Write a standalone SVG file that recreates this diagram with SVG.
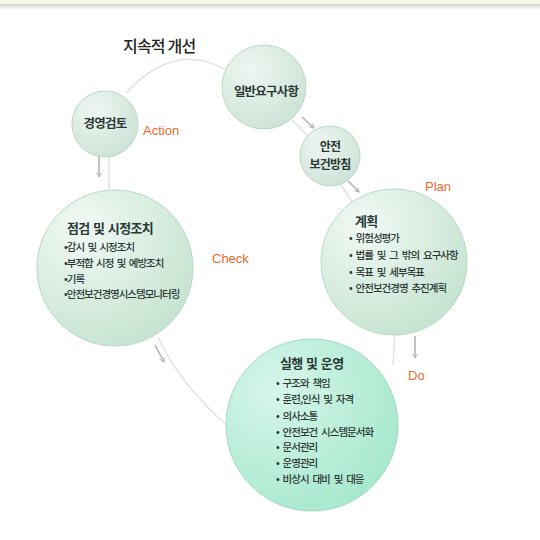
<svg xmlns="http://www.w3.org/2000/svg" width="540" height="540" viewBox="0 0 540 540">
<defs>
  <radialGradient id="gSmall" cx="35%" cy="30%" r="75%">
    <stop offset="0" stop-color="#eef6f1"/>
    <stop offset="1" stop-color="#cde3d6"/>
  </radialGradient>
  <radialGradient id="gMid" cx="30%" cy="25%" r="80%">
    <stop offset="0" stop-color="#f1f9f4"/>
    <stop offset="1" stop-color="#c6e4d1"/>
  </radialGradient>
  <radialGradient id="gBig" cx="30%" cy="30%" r="80%">
    <stop offset="0" stop-color="#d6f6e9"/>
    <stop offset="1" stop-color="#a6e7cd"/>
  </radialGradient>
  <linearGradient id="gBand" x1="0" y1="0" x2="0" y2="1">
    <stop offset="0" stop-color="#d6d6d0"/>
    <stop offset="1" stop-color="#f4f4f2"/>
  </linearGradient>
  <marker id="ah" viewBox="0 0 10 10" refX="8" refY="5" markerWidth="6" markerHeight="6" orient="auto" markerUnits="userSpaceOnUse">
    <path d="M1,1 L8,5 L1,9" fill="none" stroke="#b4b4b4" stroke-width="1.6"/>
  </marker>
</defs>
<style>
  .ring { fill: none; stroke: #e2e2e2; stroke-width: 1.5; }
  .arr { fill: none; stroke: #b4b4b4; stroke-width: 1.6; marker-end: url(#ah); }
  .c-small { fill: url(#gSmall); stroke: #bcd8c6; stroke-width: 1; }
  .c-mid { fill: url(#gMid); stroke: #b8d9c4; stroke-width: 1; }
  .c-big { fill: url(#gBig); stroke: #9edcc3; stroke-width: 1; }
  .kt { font-family: "Noto Sans CJK KR", "Noto Sans", sans-serif; fill: #2a3836; }
  .nm { font-size: 12.5px; font-weight: bold; letter-spacing: -0.8px; text-anchor: middle; }
  .hd { font-size: 13px; font-weight: bold; letter-spacing: -0.6px; word-spacing: 1px; }
  .li { font-size: 10.5px; font-weight: 500; letter-spacing: -1px; word-spacing: 2.5px; }
  .lbl { font-family: "Liberation Sans", Arial, sans-serif; font-size: 13px; fill: #e8692e; }
</style>

<rect x="0" y="0" width="540" height="540" fill="#ffffff"/>
<rect x="0" y="0" width="540" height="4" fill="#f8f6ea"/>
<rect x="0" y="4" width="540" height="5" fill="url(#gBand)"/>

<text x="123" y="52" class="kt" style="font-size:16px;font-weight:500;letter-spacing:-0.8px;fill:#222">지속적 개선</text>

<g id="connectors">
  <path class="ring" d="M126,93 Q175,40 226,70"/>
  <path class="ring" d="M109,150 L109,195"/>
  <path class="ring" d="M290,118 L312,140"/>
  <path class="ring" d="M338,180 L356,208"/>
  <path class="ring" d="M395,330 L393,365"/>
  <path class="ring" d="M158,337 Q180,385 230,428"/>
  <path class="arr" d="M99,155 L99,177"/>
  <path class="arr" d="M302,117 L314,128"/>
  <path class="arr" d="M348,181 L359,192"/>
  <path class="arr" d="M415,336 L415,358"/>
  <path class="arr" d="M155,345 L164,362"/>
</g>

<g id="node-review">
  <circle class="c-small" cx="105" cy="124" r="33"/>
  <text class="kt nm" x="105" y="128">경영검토</text>
</g>

<g id="node-general">
  <circle class="c-small" cx="264" cy="87" r="42"/>
  <text class="kt nm" x="266" y="96">일반요구사항</text>
</g>

<g id="node-policy">
  <circle class="c-small" cx="330" cy="156" r="30"/>
  <text class="kt nm" x="330" y="151" style="font-size:12px">안전</text>
  <text class="kt nm" x="330" y="169" style="font-size:12px">보건방침</text>
</g>

<g id="node-plan">
  <circle class="c-mid" cx="394" cy="262" r="73"/>
  <text class="kt hd" x="355" y="226">계획</text>
  <text class="kt li" x="349" y="242">• 위험성평가</text>
  <text class="kt li" x="349" y="259">• 법률 및 그 밖의 요구사항</text>
  <text class="kt li" x="349" y="276">• 목표 및 세부목표</text>
  <text class="kt li" x="349" y="292">• 안전보건경영 추진계획</text>
</g>

<g id="node-check">
  <circle class="c-mid" cx="115" cy="268" r="78"/>
  <text class="kt hd" x="67" y="233">점검 및 시정조치</text>
  <text class="kt li" x="64" y="251" style="word-spacing:2px">•감시 및 시정조치</text>
  <text class="kt li" x="64" y="267" style="word-spacing:2px">•부적합 시정 및 예방조치</text>
  <text class="kt li" x="64" y="283">•기록</text>
  <text class="kt li" x="64" y="298">•안전보건경영시스템모니터링</text>
</g>

<g id="node-do">
  <circle class="c-big" cx="312" cy="425" r="86"/>
  <text class="kt hd" x="280" y="368">실행 및 운영</text>
  <text class="kt li" x="276" y="387">• 구조와 책임</text>
  <text class="kt li" x="276" y="403">• 훈련,인식 및 자격</text>
  <text class="kt li" x="276" y="420">• 의사소통</text>
  <text class="kt li" x="276" y="436">• 안전보건 시스템문서화</text>
  <text class="kt li" x="276" y="451">• 문서관리</text>
  <text class="kt li" x="276" y="467">• 운영관리</text>
  <text class="kt li" x="276" y="483">• 비상시 대비 및 대응</text>
</g>

<text class="lbl" x="143" y="135">Action</text>
<text class="lbl" x="425" y="191">Plan</text>
<text class="lbl" x="212" y="263">Check</text>
<text class="lbl" x="408" y="380">Do</text>
</svg>
